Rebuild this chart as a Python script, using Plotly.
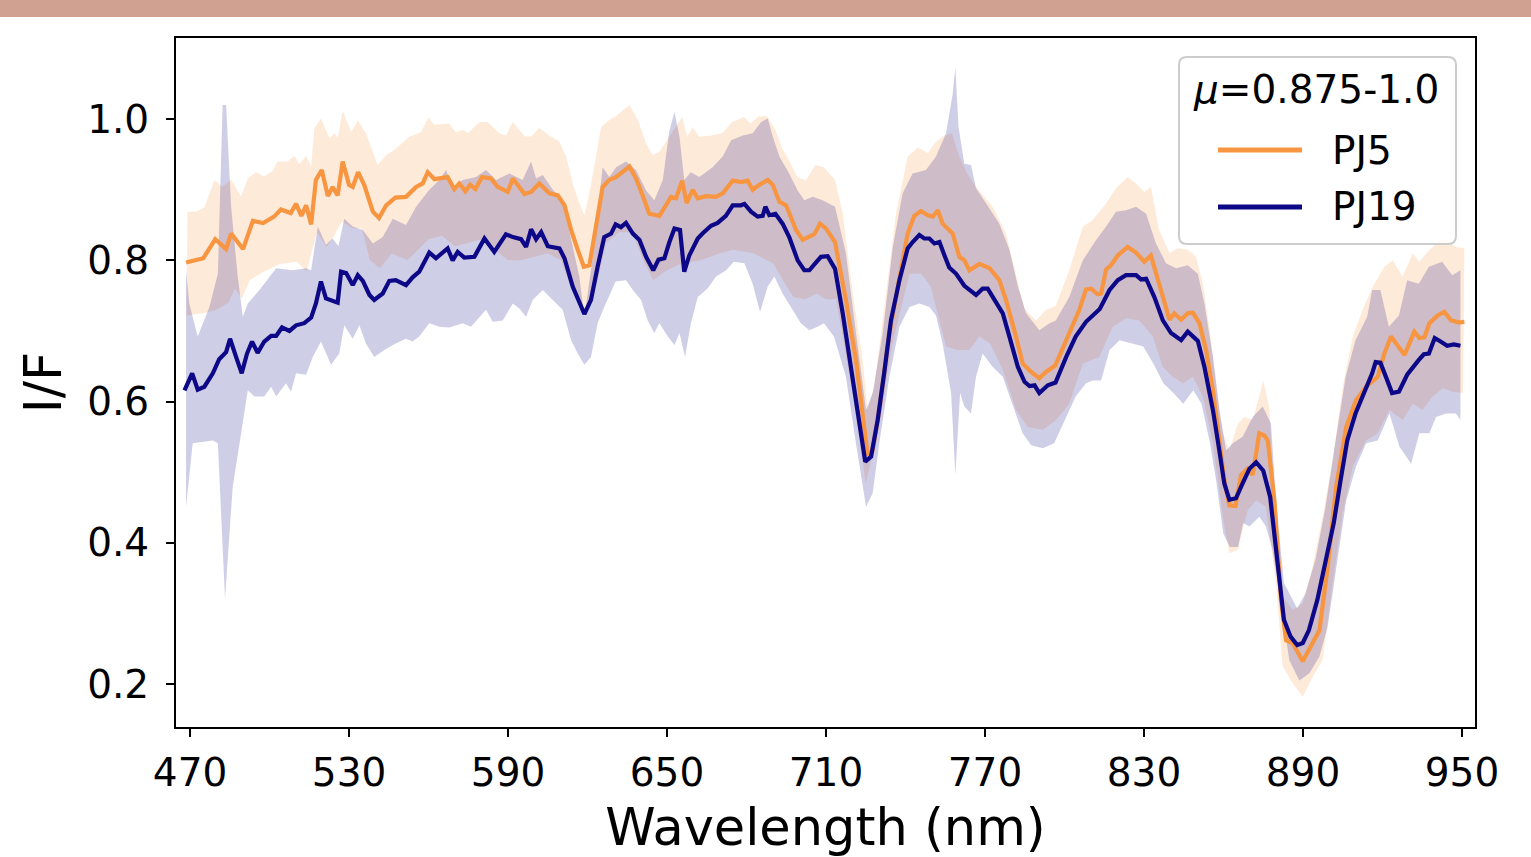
import plotly.graph_objects as go

# ---------------- data ----------------
wl_pj5 = [468.5, 472.3, 475.0, 479.5, 483.6, 485.5, 490.0, 493.7, 497.6, 501.7, 504.3, 508.0, 510.0, 512.0,
          513.8, 515.7, 517.5, 519.7, 522.0, 523.8, 525.7, 527.6, 530.0, 531.4, 533.4, 535.7, 539.0, 541.3,
          544.0, 547.5, 551.5, 555.3, 557.8, 559.7, 562.2, 567.2, 569.7, 571.6, 573.9, 575.7, 577.7, 580.2,
          583.6, 586.1, 589.9, 591.8, 596.2, 598.7, 601.8, 605.6, 608.8, 611.3, 613.8, 616.3, 618.6, 620.7,
          623.2, 625.7, 628.2, 630.7, 635.8, 638.3, 640.8, 643.3, 647.1, 649.6, 651.5, 653.4, 655.7, 657.4,
          659.7, 661.6, 664.7, 668.5, 671.0, 674.8, 677.9, 680.4, 682.3, 684.8, 688.0, 689.9, 692.4, 694.9,
          698.7, 701.2, 703.7, 705.6, 707.7, 710.0, 713.4, 717.5, 721.3, 725.7, 727.6, 730.1, 733.9, 737.7,
          740.8, 743.3, 745.8, 748.4, 750.3, 752.2, 754.0, 757.8, 760.3, 762.2, 764.1, 767.9, 771.7, 775.4,
          777.9, 781.7, 784.2, 787.4, 790.5, 793.0, 796.5, 801.8, 805.6, 808.1, 810.0, 812.5, 813.8, 815.7,
          817.5, 820.1, 823.8, 827.0, 830.1, 832.6, 835.2, 837.7, 839.6, 841.4, 844.0, 846.5, 848.4, 850.9,
          853.4, 856.0, 858.4, 860.3, 862.2, 864.5, 866.6, 869.1, 871.0, 873.5, 875.4, 876.7, 879.2, 881.7,
          883.6, 886.1, 889.9, 893.0, 896.2, 899.3, 902.5, 906.3, 910.0, 913.8, 918.2, 920.7, 923.2, 928.3,
          932.0, 933.9, 935.8, 937.7, 940.8, 943.3, 945.9, 949.0, 950.9]
pj5 = [0.797, 0.800, 0.803, 0.830, 0.816, 0.838, 0.816, 0.856, 0.853, 0.862, 0.872, 0.867, 0.880, 0.863,
       0.878, 0.851, 0.914, 0.928, 0.891, 0.904, 0.892, 0.940, 0.907, 0.904, 0.925, 0.907, 0.869, 0.860,
       0.878, 0.889, 0.890, 0.904, 0.909, 0.925, 0.915, 0.918, 0.901, 0.909, 0.898, 0.907, 0.901, 0.918,
       0.916, 0.904, 0.897, 0.916, 0.894, 0.897, 0.909, 0.895, 0.892, 0.878, 0.843, 0.815, 0.791, 0.793,
       0.848, 0.904, 0.914, 0.918, 0.933, 0.916, 0.892, 0.866, 0.863, 0.878, 0.890, 0.888, 0.913, 0.881,
       0.900, 0.888, 0.891, 0.890, 0.895, 0.913, 0.911, 0.913, 0.900, 0.907, 0.914, 0.907, 0.883, 0.878,
       0.843, 0.829, 0.833, 0.837, 0.852, 0.845, 0.826, 0.744, 0.659, 0.524, 0.531, 0.588, 0.697, 0.777,
       0.838, 0.863, 0.870, 0.864, 0.862, 0.871, 0.852, 0.838, 0.805, 0.800, 0.786, 0.795, 0.789, 0.772,
       0.744, 0.692, 0.654, 0.642, 0.633, 0.642, 0.651, 0.697, 0.730, 0.759, 0.760, 0.752, 0.753, 0.787,
       0.793, 0.807, 0.819, 0.811, 0.798, 0.807, 0.774, 0.739, 0.716, 0.725, 0.716, 0.725, 0.726, 0.711,
       0.673, 0.616, 0.550, 0.489, 0.453, 0.452, 0.496, 0.505, 0.496, 0.555, 0.552, 0.545, 0.460, 0.319,
       0.262, 0.258, 0.232, 0.253, 0.276, 0.366, 0.479, 0.564, 0.602, 0.621, 0.635, 0.668, 0.692, 0.666,
       0.699, 0.690, 0.691, 0.711, 0.722, 0.727, 0.715, 0.712, 0.713]

wl_pj19 = [467.9, 470.8, 472.9, 475.4, 478.6, 481.0, 483.6, 485.1, 487.4, 489.5, 491.5, 493.4, 495.5, 498.0,
           500.6, 502.5, 504.7, 507.5, 510.0, 513.1, 515.7, 517.5, 519.4, 521.3, 525.7, 527.0, 528.9, 531.4,
           533.3, 535.2, 537.7, 539.5, 542.7, 545.2, 547.6, 551.5, 554.0, 556.5, 560.3, 562.8, 567.2, 569.1,
           571.0, 573.5, 577.3, 581.1, 584.8, 589.2, 591.8, 594.9, 596.8, 598.7, 600.6, 602.5, 605.0, 609.4,
           611.3, 614.4, 618.8, 621.3, 623.8, 626.3, 628.9, 630.6, 632.6, 634.5, 637.1, 639.6, 642.1, 644.8,
           646.8, 649.0, 650.9, 652.8, 654.9, 656.5, 658.4, 661.6, 663.4, 666.6, 669.1, 672.2, 674.8, 677.9,
           679.2, 681.7, 684.2, 686.1, 687.1, 688.6, 690.9, 693.6, 696.1, 699.3, 701.8, 703.7, 706.0, 708.1,
           710.6, 713.4, 716.3, 720.1, 722.6, 724.8, 727.0, 729.5, 732.0, 734.5, 737.7, 740.8, 742.7, 745.2,
           747.1, 749.0, 750.9, 752.8, 754.7, 756.5, 759.1, 762.2, 766.6, 769.1, 771.0, 773.5, 776.7, 779.2,
           782.4, 784.9, 786.8, 788.7, 790.5, 793.7, 796.6, 800.6, 804.2, 808.1, 811.3, 813.3, 817.0, 820.1,
           823.2, 827.0, 828.9, 830.8, 833.9, 837.1, 840.2, 844.0, 846.5, 850.3, 852.8, 856.0, 858.4, 860.3,
           862.2, 864.7, 867.2, 869.8, 872.3, 875.0, 877.6, 880.3, 882.8, 885.3, 887.8, 889.9, 892.2, 895.4,
           898.5, 901.6, 904.2, 906.7, 909.8, 913.0, 916.1, 917.4, 919.2, 921.8, 923.6, 926.2, 929.3, 933.7,
           935.6, 937.5, 939.7, 941.9, 944.4, 946.9, 949.4]
pj19 = [0.616, 0.640, 0.617, 0.621, 0.640, 0.660, 0.670, 0.689, 0.663, 0.640, 0.668, 0.685, 0.669, 0.685,
        0.693, 0.693, 0.705, 0.700, 0.708, 0.711, 0.719, 0.739, 0.770, 0.746, 0.740, 0.784, 0.782, 0.765,
        0.779, 0.771, 0.751, 0.744, 0.753, 0.771, 0.772, 0.765, 0.776, 0.784, 0.811, 0.803, 0.817, 0.800,
        0.812, 0.804, 0.805, 0.831, 0.812, 0.837, 0.833, 0.830, 0.819, 0.844, 0.830, 0.840, 0.820, 0.817,
        0.803, 0.763, 0.724, 0.744, 0.791, 0.833, 0.838, 0.851, 0.847, 0.853, 0.838, 0.829, 0.805, 0.786,
        0.801, 0.803, 0.826, 0.845, 0.843, 0.784, 0.807, 0.831, 0.838, 0.849, 0.853, 0.863, 0.878, 0.878,
        0.880, 0.869, 0.862, 0.863, 0.876, 0.864, 0.866, 0.852, 0.833, 0.800, 0.786, 0.786, 0.796, 0.805,
        0.806, 0.788, 0.725, 0.630, 0.564, 0.515, 0.522, 0.574, 0.642, 0.715, 0.772, 0.817, 0.826, 0.836,
        0.831, 0.831, 0.824, 0.826, 0.807, 0.790, 0.781, 0.764, 0.751, 0.760, 0.760, 0.744, 0.725, 0.692,
        0.649, 0.628, 0.622, 0.623, 0.612, 0.623, 0.627, 0.663, 0.692, 0.713, 0.725, 0.731, 0.758, 0.772,
        0.779, 0.779, 0.773, 0.774, 0.748, 0.715, 0.697, 0.687, 0.699, 0.686, 0.649, 0.588, 0.531, 0.484,
        0.461, 0.463, 0.484, 0.505, 0.514, 0.502, 0.465, 0.376, 0.291, 0.267, 0.255, 0.258, 0.276, 0.319,
        0.376, 0.428, 0.489, 0.545, 0.583, 0.612, 0.640, 0.656, 0.655, 0.630, 0.612, 0.614, 0.638, 0.659,
        0.667, 0.668, 0.690, 0.685, 0.679, 0.681, 0.679]

# PJ5 spread (upper / lower envelope)
wl_pj5_hi = [469.0, 472.3, 475.4, 479.2, 482.3, 485.5, 489.2, 491.8, 494.9, 498.0, 501.2, 503.0, 506.8, 509.4,
             511.2, 513.8, 515.7, 516.9, 519.4, 522.6, 524.5, 525.7, 527.6, 530.8, 533.3, 536.4, 540.8, 544.0,
             547.6, 552.8, 557.2, 559.9, 562.2, 567.8, 570.4, 572.9, 574.8, 579.2, 582.3, 586.7, 589.2, 591.8,
             596.2, 598.7, 601.8, 605.6, 609.4, 611.9, 614.4, 616.9, 618.8, 620.7, 623.2, 625.1, 628.2, 630.6,
             635.8, 639.0, 642.1, 644.6, 647.1, 650.9, 655.7, 657.6, 659.7, 662.0, 667.0, 670.8, 674.6, 679.0,
             681.5, 684.6, 687.8, 691.0, 693.5, 696.0, 699.1, 702.3, 706.0, 709.2, 713.4, 716.3, 720.1, 723.8,
             725.7, 728.2, 732.6, 736.4, 740.8, 744.6, 748.4, 751.5, 754.7, 757.5, 760.0, 763.0, 766.6, 772.9,
             777.9, 781.7, 784.8, 789.2, 793.0, 796.6, 801.8, 806.9, 810.6, 815.7, 819.4, 823.8, 827.0, 830.1,
             832.6, 835.7, 839.6, 842.7, 846.5, 849.6, 852.2, 854.6, 857.2, 859.7, 862.2, 865.4, 867.9, 871.0,
             873.5, 875.0, 877.3, 879.8, 882.3, 886.1, 889.9, 893.6, 897.4, 901.2, 905.0, 908.8, 912.5, 916.3,
             920.7, 923.9, 927.6, 931.4, 933.9, 937.7, 942.7, 947.7, 950.9]
pj5_hi = [0.869, 0.869, 0.875, 0.914, 0.904, 0.915, 0.890, 0.916, 0.925, 0.919, 0.927, 0.940, 0.940, 0.948,
          0.936, 0.948, 0.933, 0.987, 1.001, 0.973, 0.980, 0.973, 1.012, 0.982, 0.998, 0.980, 0.935, 0.949,
          0.958, 0.975, 0.982, 1.002, 0.992, 0.994, 0.981, 0.985, 0.980, 0.996, 0.996, 0.980, 0.977, 0.996,
          0.976, 0.975, 0.988, 0.977, 0.968, 0.947, 0.909, 0.881, 0.864, 0.895, 0.947, 0.989, 0.999, 1.004,
          1.020, 0.999, 0.966, 0.949, 0.954, 0.975, 1.003, 0.975, 0.989, 0.975, 0.977, 0.980, 0.996, 1.003,
          0.994, 1.004, 1.004, 0.984, 0.958, 0.942, 0.918, 0.913, 0.935, 0.932, 0.914, 0.866, 0.753, 0.659,
          0.588, 0.621, 0.753, 0.866, 0.947, 0.960, 0.952, 0.968, 0.977, 0.980, 0.950, 0.925, 0.904, 0.876,
          0.838, 0.781, 0.732, 0.715, 0.730, 0.735, 0.786, 0.848, 0.857, 0.881, 0.902, 0.918, 0.909, 0.897,
          0.904, 0.843, 0.810, 0.817, 0.815, 0.805, 0.767, 0.706, 0.626, 0.555, 0.531, 0.569, 0.578, 0.574,
          0.607, 0.630, 0.590, 0.413, 0.324, 0.305, 0.314, 0.366, 0.437, 0.517, 0.621, 0.692, 0.730, 0.763,
          0.791, 0.800, 0.777, 0.810, 0.798, 0.815, 0.831, 0.819, 0.817]
wl_pj5_lo = [468.7, 475.0, 480.0, 484.5, 487.0, 489.5, 492.6, 497.7, 504.0, 510.3, 514.0, 517.8, 521.6, 524.1,
             527.2, 531.0, 534.8, 537.9, 541.7, 546.1, 552.0, 556.0, 560.0, 565.0, 570.0, 575.0, 580.0, 585.0,
             590.0, 595.0, 600.0, 605.0, 610.0, 613.8, 618.2, 621.0, 624.0, 627.0, 632.0, 637.0, 641.0, 644.8,
             649.9, 655.0, 662.5, 670.0, 675.0, 682.6, 690.0, 694.0, 697.7, 702.0, 706.5, 710.0, 713.8, 720.0,
             725.0, 730.0, 735.0, 741.5, 746.0, 749.5, 755.3, 759.7, 764.1, 767.9, 772.0, 776.7, 781.7, 786.1,
             791.8, 796.8, 801.8, 806.9, 813.1, 818.2, 823.2, 828.2, 833.3, 837.1, 840.8, 844.6, 848.4, 852.2,
             856.0, 859.7, 862.2, 865.4, 869.1, 872.3, 876.0, 879.8, 882.3, 886.1, 889.9, 893.6, 897.4, 901.2,
             905.0, 908.8, 913.8, 918.2, 922.6, 927.6, 931.4, 935.1, 938.9, 942.7, 946.5, 950.4]
pj5_lo = [0.722, 0.725, 0.730, 0.740, 0.760, 0.746, 0.772, 0.784, 0.795, 0.798, 0.784, 0.840, 0.819, 0.833,
          0.855, 0.846, 0.845, 0.800, 0.789, 0.810, 0.800, 0.815, 0.830, 0.835, 0.820, 0.825, 0.830, 0.815,
          0.800, 0.800, 0.805, 0.810, 0.800, 0.760, 0.725, 0.735, 0.775, 0.825, 0.840, 0.840, 0.800, 0.772,
          0.786, 0.795, 0.800, 0.810, 0.815, 0.810, 0.796, 0.770, 0.748, 0.745, 0.753, 0.745, 0.745, 0.612,
          0.484, 0.564, 0.682, 0.781, 0.781, 0.763, 0.678, 0.673, 0.673, 0.692, 0.682, 0.645, 0.588, 0.564,
          0.560, 0.574, 0.597, 0.654, 0.663, 0.706, 0.718, 0.715, 0.692, 0.649, 0.635, 0.626, 0.635, 0.607,
          0.541, 0.437, 0.385, 0.390, 0.446, 0.460, 0.451, 0.343, 0.225, 0.201, 0.182, 0.210, 0.234, 0.343,
          0.442, 0.508, 0.545, 0.555, 0.588, 0.574, 0.597, 0.588, 0.607, 0.619, 0.614, 0.612]

# PJ19 spread (upper / lower envelope)
wl_pj19_hi = [468.5, 469.7, 472.9, 477.3, 480.5, 482.3, 483.6, 485.5, 488.0, 489.9, 491.8, 496.2, 502.5, 508.7,
              513.8, 515.7, 518.2, 521.3, 523.8, 526.0, 528.2, 531.4, 535.2, 539.0, 542.7, 546.5, 551.5, 555.3,
              560.3, 564.1, 566.6, 569.1, 572.9, 577.9, 581.7, 585.5, 590.5, 595.5, 598.7, 600.6, 603.1, 606.9,
              610.6, 613.1, 616.9, 618.8, 622.0, 625.7, 628.2, 630.8, 634.5, 638.3, 642.1, 645.2, 648.4, 650.9,
              652.8, 654.7, 656.5, 659.0, 662.2, 667.2, 671.0, 674.2, 678.6, 682.3, 685.5, 688.0, 689.9, 692.4,
              696.1, 699.3, 701.8, 705.0, 708.7, 713.4, 717.5, 721.3, 725.1, 727.6, 731.4, 735.2, 738.9, 742.7,
              747.7, 751.5, 755.3, 757.8, 758.8, 760.0, 762.2, 764.7, 766.6, 770.4, 775.4, 779.2, 782.4, 785.5,
              790.5, 794.3, 796.7, 801.8, 806.9, 811.9, 815.7, 819.4, 823.2, 827.0, 830.8, 834.5, 838.3, 842.1,
              846.5, 850.3, 852.8, 856.0, 858.4, 861.0, 863.5, 867.2, 871.0, 874.8, 877.9, 879.8, 882.8, 887.8,
              890.9, 894.7, 898.5, 902.3, 906.1, 909.8, 914.2, 916.1, 919.2, 922.4, 926.2, 929.3, 933.7, 937.5,
              942.5, 946.3, 949.4]
pj19_hi = [0.786, 0.739, 0.692, 0.734, 0.781, 1.020, 1.020, 0.876, 0.777, 0.720, 0.739, 0.758, 0.789, 0.786,
           0.789, 0.786, 0.848, 0.822, 0.831, 0.820, 0.859, 0.848, 0.843, 0.824, 0.833, 0.859, 0.850, 0.876,
           0.900, 0.914, 0.928, 0.904, 0.914, 0.918, 0.928, 0.914, 0.923, 0.914, 0.940, 0.916, 0.921, 0.900,
           0.885, 0.843, 0.777, 0.720, 0.805, 0.932, 0.918, 0.932, 0.940, 0.928, 0.899, 0.885, 0.914, 0.984,
           1.010, 0.975, 0.914, 0.925, 0.918, 0.932, 0.947, 0.970, 0.977, 0.980, 0.996, 1.001, 0.975, 0.947,
           0.923, 0.899, 0.885, 0.890, 0.885, 0.876, 0.810, 0.697, 0.588, 0.612, 0.697, 0.819, 0.895, 0.923,
           0.928, 0.947, 0.980, 1.036, 1.073, 0.989, 0.937, 0.935, 0.902, 0.881, 0.852, 0.815, 0.763, 0.725,
           0.701, 0.711, 0.715, 0.748, 0.800, 0.829, 0.848, 0.869, 0.871, 0.876, 0.866, 0.824, 0.796, 0.789,
           0.793, 0.781, 0.739, 0.663, 0.588, 0.531, 0.541, 0.550, 0.578, 0.593, 0.569, 0.460, 0.343, 0.307,
           0.328, 0.376, 0.451, 0.545, 0.635, 0.687, 0.720, 0.758, 0.758, 0.706, 0.722, 0.772, 0.767, 0.791,
           0.798, 0.779, 0.786]
wl_pj19_lo = [468.5, 471.0, 474.8, 478.6, 480.5, 483.2, 486.1, 489.9, 491.8, 494.3, 498.0, 500.6, 502.5, 506.2,
              508.1, 510.0, 513.8, 516.3, 519.4, 523.2, 526.3, 528.2, 531.4, 533.9, 536.4, 539.5, 543.3, 547.4,
              551.5, 554.0, 556.5, 560.3, 564.1, 567.8, 572.9, 576.0, 579.2, 581.7, 584.2, 588.0, 591.8, 594.3,
              596.8, 599.3, 603.1, 606.9, 610.6, 613.8, 616.3, 618.8, 621.3, 623.8, 626.3, 630.6, 634.5, 637.1,
              640.2, 642.7, 645.2, 647.1, 650.3, 652.8, 654.7, 656.8, 659.0, 661.6, 665.3, 668.5, 672.3, 675.2,
              679.2, 682.3, 685.1, 688.0, 690.5, 693.6, 697.4, 700.5, 703.7, 706.8, 709.2, 713.0, 717.5, 721.3,
              725.1, 727.6, 730.1, 733.9, 737.7, 741.5, 745.2, 749.0, 751.5, 754.0, 757.2, 758.8, 760.6, 762.2,
              764.7, 766.6, 769.1, 772.9, 776.7, 780.4, 784.2, 787.4, 791.8, 796.1, 800.6, 804.2, 808.1, 810.6,
              813.8, 817.0, 820.8, 825.9, 829.7, 833.5, 837.3, 841.1, 844.8, 848.6, 851.7, 854.9, 857.4, 859.9,
              862.4, 865.5, 867.4, 869.8, 873.5, 876.0, 878.5, 881.1, 884.8, 888.6, 892.4, 896.2, 899.3, 902.5,
              906.3, 910.0, 913.8, 918.2, 922.6, 926.4, 930.8, 933.9, 937.7, 940.2, 944.0, 947.7, 949.4]
pj19_lo = [0.451, 0.541, 0.543, 0.545, 0.541, 0.321, 0.479, 0.569, 0.616, 0.607, 0.607, 0.621, 0.607, 0.626,
           0.614, 0.640, 0.638, 0.663, 0.685, 0.652, 0.668, 0.708, 0.689, 0.708, 0.682, 0.663, 0.673, 0.682,
           0.689, 0.685, 0.692, 0.711, 0.706, 0.705, 0.711, 0.706, 0.720, 0.730, 0.713, 0.715, 0.739, 0.732,
           0.720, 0.744, 0.758, 0.744, 0.730, 0.687, 0.668, 0.652, 0.663, 0.711, 0.734, 0.770, 0.772, 0.758,
           0.744, 0.715, 0.697, 0.711, 0.692, 0.680, 0.697, 0.663, 0.711, 0.748, 0.760, 0.777, 0.786, 0.798,
           0.796, 0.767, 0.727, 0.763, 0.777, 0.753, 0.730, 0.711, 0.701, 0.706, 0.711, 0.692, 0.635, 0.541,
           0.451, 0.470, 0.541, 0.635, 0.706, 0.734, 0.739, 0.734, 0.722, 0.682, 0.612, 0.496, 0.612, 0.593,
           0.583, 0.635, 0.668, 0.649, 0.635, 0.597, 0.555, 0.538, 0.534, 0.541, 0.578, 0.607, 0.626, 0.630,
           0.630, 0.673, 0.687, 0.682, 0.678, 0.654, 0.626, 0.612, 0.597, 0.616, 0.597, 0.541, 0.484, 0.413,
           0.394, 0.394, 0.428, 0.423, 0.437, 0.423, 0.390, 0.328, 0.234, 0.205, 0.215, 0.239, 0.281, 0.366,
           0.460, 0.508, 0.541, 0.545, 0.583, 0.536, 0.512, 0.555, 0.555, 0.578, 0.583, 0.583, 0.574]

x_ticks = [470, 530, 590, 650, 710, 770, 830, 890, 950]
y_ticks = [0.2, 0.4, 0.6, 0.8, 1.0]
y_tick_labels = ["0.2", "0.4", "0.6", "0.8", "1.0"]
legend_title = "<i>μ</i>=0.875-1.0"
series_names = ["PJ5", "PJ19"]

# ---------------- styling ----------------
ORANGE = "#F89540"
NAVY = "#0D0887"
FONT = "DejaVu Sans"
W, H = 1531, 857
ML, MR, MT, MB = 176, 56, 38, 130
PW, PH = W - ML - MR, H - MT - MB


def px_x(p):
    return (p - ML) / PW


def px_y(p):
    return (H - MB - p) / PH


def band(wl_hi, hi, wl_lo, lo):
    return list(wl_hi) + list(reversed(wl_lo)), list(hi) + list(reversed(lo))


fig = go.Figure()
bx, by = band(wl_pj5_hi, pj5_hi, wl_pj5_lo, pj5_lo)
fig.add_trace(go.Scatter(x=bx, y=by, fill="toself", fillcolor="rgba(248,149,64,0.2)",
                         line=dict(width=0), mode="lines", hoverinfo="skip", showlegend=False))
bx, by = band(wl_pj19_hi, pj19_hi, wl_pj19_lo, pj19_lo)
fig.add_trace(go.Scatter(x=bx, y=by, fill="toself", fillcolor="rgba(13,8,135,0.2)",
                         line=dict(width=0), mode="lines", hoverinfo="skip", showlegend=False))
fig.add_trace(go.Scatter(x=wl_pj5, y=pj5, mode="lines", name=series_names[0],
                         line=dict(color=ORANGE, width=4.2), showlegend=False))
fig.add_trace(go.Scatter(x=wl_pj19, y=pj19, mode="lines", name=series_names[1],
                         line=dict(color=NAVY, width=4.2), showlegend=False))

# legend box (drawn by hand to match the reference)
lx0, lx1 = px_x(1179), px_x(1456)
ly0, ly1 = px_y(244), px_y(57)
rx, ry = 8 / PW, 8 / PH
path = (f"M {lx0 + rx},{ly1} L {lx1 - rx},{ly1} Q {lx1},{ly1} {lx1},{ly1 - ry} "
        f"L {lx1},{ly0 + ry} Q {lx1},{ly0} {lx1 - rx},{ly0} L {lx0 + rx},{ly0} "
        f"Q {lx0},{ly0} {lx0},{ly0 + ry} L {lx0},{ly1 - ry} Q {lx0},{ly1} {lx0 + rx},{ly1} Z")
shapes = [
    dict(type="rect", xref="paper", yref="paper", x0=px_x(0), x1=px_x(W), y0=px_y(17), y1=px_y(-2),
         fillcolor="#D0A190", line=dict(width=0)),
    dict(type="path", xref="paper", yref="paper", path=path, fillcolor="rgba(255,255,255,0.8)",
         line=dict(color="#CCCCCC", width=2)),
]
annotations = [
    dict(text=legend_title, xref="paper", yref="paper", x=px_x(1316), y=px_y(89), showarrow=False,
         xanchor="center", yanchor="middle", font=dict(family=FONT, size=39, color="black")),
]
for name, col, yy in zip(series_names, [ORANGE, NAVY], [150, 207]):
    shapes.append(dict(type="line", xref="paper", yref="paper", x0=px_x(1218), x1=px_x(1302),
                       y0=px_y(yy), y1=px_y(yy), line=dict(color=col, width=5)))
    annotations.append(dict(text=name, xref="paper", yref="paper", x=px_x(1330), y=px_y(yy),
                            showarrow=False, xanchor="left", yanchor="middle",
                            font=dict(family=FONT, size=39, color="black")))

axis_common = dict(showline=True, linecolor="black", linewidth=2, mirror=True, ticks="outside",
                   ticklen=8, tickwidth=1.8, tickcolor="black", showgrid=False, zeroline=False,
                   tickfont=dict(family=FONT, size=39, color="black"))

fig.update_layout(
    width=W, height=H, margin=dict(l=ML, r=MR, t=MT, b=MB),
    paper_bgcolor="white", plot_bgcolor="white",
    xaxis=dict(range=[464.7, 954.9], tickvals=x_ticks, ticktext=[str(t) for t in x_ticks],
               ticklabelstandoff=2,
               title=dict(text="Wavelength (nm)", font=dict(family=FONT, size=51, color="black"), standoff=16),
               **axis_common),
    yaxis=dict(range=[0.139, 1.115], tickvals=y_ticks, ticktext=y_tick_labels,
               ticklabelstandoff=9,
               title=dict(text="I/F", font=dict(family=FONT, size=51, color="black"), standoff=9),
               **axis_common),
    shapes=shapes, annotations=annotations, showlegend=False,
)

fig.write_html("out.html", config={"displayModeBar": False},
               post_script="document.body.style.margin='0';document.body.style.overflow='hidden';")
